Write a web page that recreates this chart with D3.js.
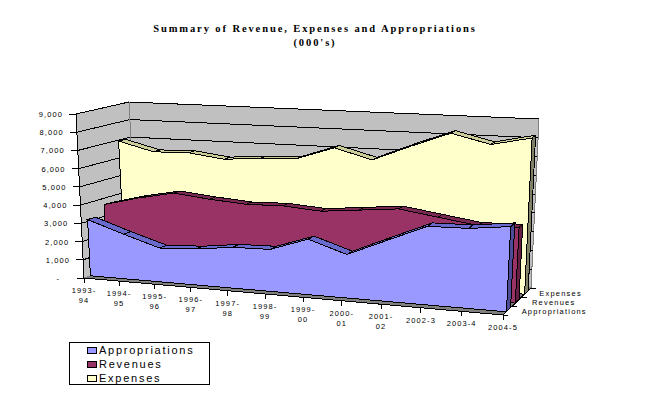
<!DOCTYPE html>
<html><head><meta charset="utf-8">
<script src="https://cdn.jsdelivr.net/npm/d3@7/dist/d3.min.js"></script>
<style>html,body{margin:0;padding:0;background:#fff;overflow:hidden}svg{display:block}</style>
</head><body><div id="c"></div>
<script>
const categories=[["1993-","94"],["1994-","95"],["1995-","96"],["1996-","97"],["1997-","98"],["1998-","99"],["1999-","00"],["2000-","01"],["2001-","02"],["2002-3"],["2003-4"],["2004-5"]];
const valueTicks=[0,1000,2000,3000,4000,5000,6000,7000,8000,9000];
const appropriations=[3100,2450,1850,1950,2200,2250,2950,2300,3200,4100,4150,4400];
const revenues=[3650,4150,4550,4350,4200,4250,4100,4300,4500,4200,3900,3950];
const expenses=[6950,6450,6500,6250,6400,6500,7200,6650,7500,8300,7800,8250];
const seriesNames=["Appropriations","Revenues","Expenses"];
const seriesFront=["#9999FF","#993366","#FFFFCC"];
const seriesTop=["#6A6ACC","#7A2952","#CCCC99"];
const seriesSide=["#4C4C99","#661F44","#808066"];
const depthStart=[0.12,0.44,0.77];
const depthEnd=[0.27,0.57,0.9];
const depthDx=[14,15,13];
const titleLines=["Summary of Revenue, Expenses and Appropriations","(000's)"];

const W=658,H=410;
const svg=d3.select("#c").append("svg").attr("width",W).attr("height",H).attr("shape-rendering","crispEdges");
// Projection corners
const FL=[84,278],FR=[503,315],BR=[531,288],BL=[137,260];
const FLt=[76,114],FRt=[512,140],BRt=[539,119],BLt=[129,102];
const vScale=d3.scaleLinear().domain([0,9000]).range([0,1]);
const iScale=d3.scaleLinear().domain([0,categories.length-1]).range([0,1]);
const K=1.095;
const warp=t=>t/(K-(K-1)*t);
const lerp=(a,b,t)=>[a[0]+(b[0]-a[0])*t,a[1]+(b[1]-a[1])*t];
const bil=(a,b,c,d,u,w)=>lerp(lerp(a,b,u),lerp(c,d,u),w);
function P(i,d,v){
  const u=warp(iScale(i));
  return lerp(bil(FL,FR,BL,BR,u,d),bil(FLt,FRt,BLt,BRt,u,d),vScale(v));
}
const poly=pts=>"M"+pts.map(p=>p[0].toFixed(1)+","+p[1].toFixed(1)).join("L")+"Z";
const last=categories.length-1;
const black="#000",grid="#808080",wall="#C0C0C0";
const gBack=svg.append("g");
// walls
gBack.append("path").attr("d",poly([FLt,BLt,BL,FL])).attr("fill",wall).attr("stroke",grid);
gBack.append("path").attr("d",poly([BLt,BRt,BR,BL])).attr("fill",wall).attr("stroke",grid);
gBack.append("path").attr("d",poly([FL,FR,BR,BL])).attr("fill",grid).attr("stroke",grid);
// grid
valueTicks.forEach(v=>{
  if(v===0)return;
  const a=P(0,0,v),b=P(0,1,v),c=P(last,1,v);
  gBack.append("path").attr("d","M"+a+"L"+b+"L"+c).attr("fill","none").attr("stroke",black);
});
gBack.append("path").attr("d","M"+BLt+"L"+BL).attr("stroke",grid).attr("fill","none");
// axis lines
gBack.append("path").attr("d","M"+FLt+"L"+FL+"L"+FR+"L"+BR).attr("fill","none").attr("stroke",black);
// series back to front
const data=[appropriations,revenues,expenses];
[2,1,0].forEach(s=>{
  const vals=data[s],d0=depthStart[s],d1=depthEnd[s];
  const g=svg.append("g");
  // top band
  g.selectAll("path.t").data(d3.range(last)).join("path").attr("class","t")
    .attr("d",i=>poly([P(i,d0,vals[i]),P(i+1,d0,vals[i+1]),P(i+1,d1,vals[i+1]),P(i,d1,vals[i])]))
    .attr("fill",seriesTop[s]).attr("stroke",black);
  // right side
  g.append("path").attr("d",poly([P(last,d0,0),P(last,d0,vals[last]),P(last,d1,vals[last]),P(last,d1,0)]))
    .attr("fill",seriesSide[s]).attr("stroke",black);
  // front
  const pts=vals.map((v,i)=>P(i,d0,v));
  g.append("path").attr("d",poly([P(0,d0,0),...pts,P(last,d0,0)])).attr("fill",seriesFront[s]).attr("stroke",black);
});
// value axis
const axisFont="'Liberation Sans',Arial,sans-serif";
const gA=svg.append("g").attr("font-family",axisFont).attr("font-size",7.5).attr("fill",black);
valueTicks.forEach(v=>{
  const p=P(0,0,v);
  gA.append("path").attr("d",`M${p[0]-7},${p[1]}L${p[0]},${p[1]}`).attr("stroke",black);
  gA.append("text").attr("x",v===0?p[0]-24:p[0]-13).attr("y",p[1]+3).attr("text-anchor","end")
    .attr("letter-spacing",1.1).text(v===0?"-":d3.format(",")(v));
});
// category axis
categories.forEach((lines,i)=>{
  const p=P(i,0,0);
  gA.append("path").attr("d",`M${p[0]},${p[1]}L${p[0]},${p[1]+5}`).attr("stroke",black);
  lines.forEach((t,k)=>{
    gA.append("text").attr("x",p[0]).attr("y",p[1]+15+k*10).attr("text-anchor","middle")
      .attr("letter-spacing",1.1).text(t);
  });
});
// depth axis
[0,1/3,2/3,1].forEach(d=>{
  const p=lerp(FR,BR,d);
  gA.append("path").attr("d",`M${p[0]},${p[1]}L${p[0]+5},${p[1]}`).attr("stroke",black);
});
seriesNames.forEach((n,s)=>{
  const p=lerp(FR,BR,(s+0.5)/3);
  gA.append("text").attr("x",p[0]+depthDx[s]).attr("y",p[1]+3).attr("letter-spacing",1.2).text(n);
});
// title
titleLines.forEach((t,k)=>{
  svg.append("text").attr("x",315).attr("y",32+k*14).attr("text-anchor","middle")
    .attr("font-family","'Liberation Serif','Times New Roman',serif").attr("font-weight","bold")
    .attr("font-size",10.5).attr("letter-spacing",1.9).attr("fill",black).text(t);
});
// legend
const gL=svg.append("g");
gL.append("rect").attr("x",69.5).attr("y",342.5).attr("width",140).attr("height",42).attr("fill","#fff").attr("stroke",black);
[0,1,2].forEach((s,k)=>{
  const y=350+k*14;
  gL.append("rect").attr("x",87).attr("y",y-3).attr("width",9).attr("height",6).attr("fill",seriesFront[s]).attr("stroke",black);
  gL.append("text").attr("x",99).attr("y",y+4).attr("font-family",axisFont).attr("font-size",11)
    .attr("letter-spacing",1.75).attr("fill",black).text(seriesNames[s]);
});
</script></body></html>
